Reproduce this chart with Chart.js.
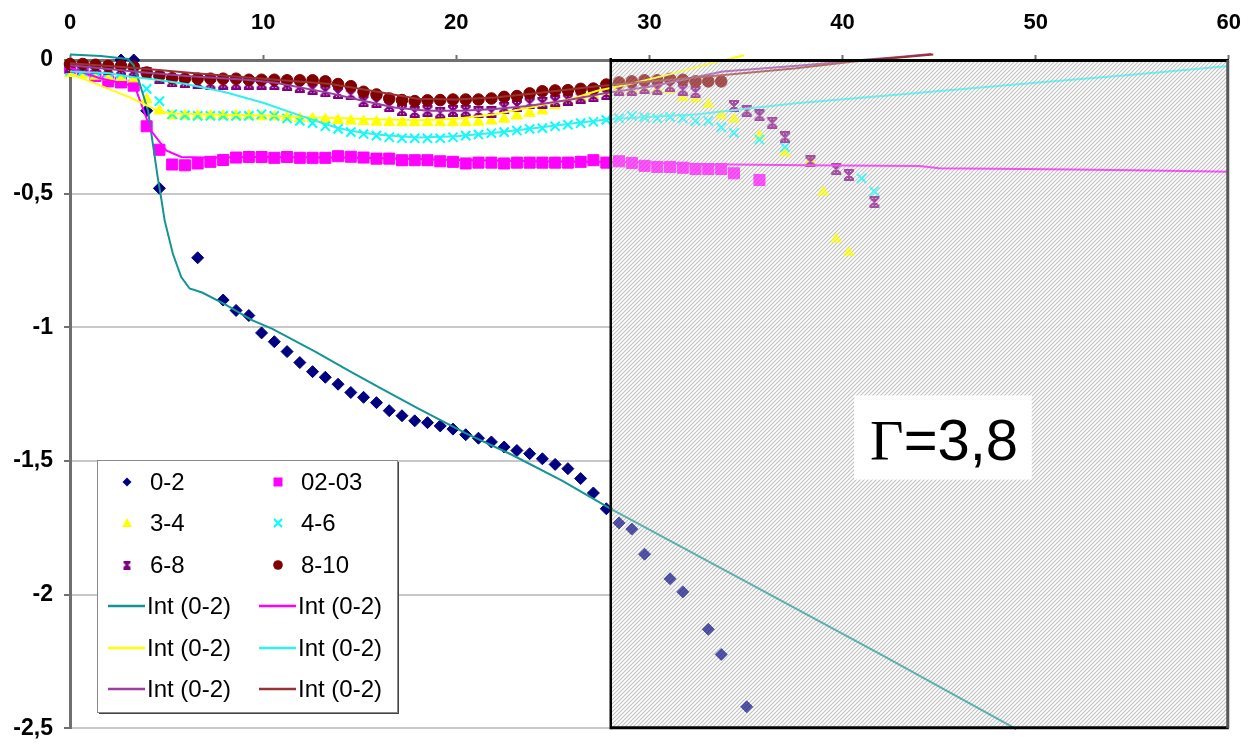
<!DOCTYPE html>
<html><head><meta charset="utf-8">
<script src="https://cdn.jsdelivr.net/npm/chart.js@4.4.1/dist/chart.umd.min.js"></script>
<style>html,body{margin:0;padding:0;background:#fff;}canvas{display:block;}</style>
</head><body>
<canvas id="c" width="1260" height="753"></canvas>
<script>
// ---- data ----
const time = [0, 0.66, 1.32, 1.98, 2.64, 3.3, 3.97, 4.63, 5.29, 5.95, 6.61, 7.27, 7.93, 8.6, 9.26, 9.92,
  10.58, 11.24, 11.9, 12.56, 13.22, 13.88, 14.54, 15.2, 15.87, 16.53, 17.19, 17.85, 18.51, 19.17, 19.83,
  20.49, 21.15, 21.82, 22.48, 23.14, 23.8, 24.46, 25.12, 25.78, 26.44, 27.1, 27.77, 28.43, 29.09, 29.75,
  30.41, 31.07, 31.73, 32.39, 33.05, 33.72, 34.38, 35.04, 35.7, 36.36, 37.02, 37.68, 38.34, 39.0, 39.67,
  40.33, 40.99, 41.65];

const s0_2 = [null, null, null, null, 0, 0, -0.19, -0.48, null, null, -0.74, null, -0.898, -0.937, -0.956, -1.021,
  -1.054, -1.091, -1.132, -1.166, -1.187, -1.213, -1.244, -1.262, -1.282, -1.312, -1.331, -1.35, -1.357, -1.369, -1.381,
  -1.402, -1.415, -1.429, -1.448, -1.461, -1.473, -1.492, -1.513, -1.529, -1.566, -1.62, -1.679, -1.732, -1.755, -1.849,
  null, -1.941, -1.99, null, -2.13, -2.224, null, -2.42];
const s02_03 = [-0.03, -0.04, -0.06, -0.08, -0.084, -0.096, -0.248, -0.336, -0.391, -0.394, -0.387, -0.381, -0.374, -0.365, -0.363, -0.363,
  -0.366, -0.363, -0.366, -0.366, -0.366, -0.36, -0.362, -0.365, -0.369, -0.369, -0.375, -0.375, -0.375, -0.379, -0.381,
  -0.387, -0.384, -0.384, -0.387, -0.384, -0.384, -0.384, -0.384, -0.384, -0.381, -0.375, -0.384, -0.379, -0.385, -0.396,
  -0.4, -0.4, -0.403, -0.408, -0.408, -0.408, -0.424, null, -0.449];
const s3_4 = [-0.05, -0.055, -0.06, -0.062, -0.065, -0.07, -0.148, -0.19, -0.209, -0.209, -0.209, -0.209, -0.209, -0.209, -0.209, -0.212,
  -0.212, -0.215, -0.218, -0.22, -0.223, -0.226, -0.228, -0.23, -0.232, -0.234, -0.234, -0.234, -0.234, -0.234, -0.234,
  -0.234, -0.232, -0.228, -0.221, -0.209, -0.199, -0.19, -0.17, -0.155, -0.14, -0.13, -0.118, -0.11, -0.111, -0.113,
  -0.113, -0.111, -0.141, -0.145, -0.166, -0.207, -0.221, null, -0.283, null, -0.347, null, -0.379, -0.494, -0.67,
  -0.72];
const s4_6 = [-0.04, -0.043, -0.045, -0.047, -0.05, -0.05, -0.108, -0.154, -0.203, -0.207, -0.209, -0.209, -0.209, -0.209, -0.209, -0.203,
  -0.209, -0.219, -0.228, -0.236, -0.248, -0.258, -0.27, -0.277, -0.283, -0.289, -0.293, -0.293, -0.293, -0.293, -0.289,
  -0.283, -0.279, -0.274, -0.27, -0.264, -0.258, -0.255, -0.248, -0.242, -0.236, -0.231, -0.224, -0.218, -0.209, -0.215,
  -0.218, -0.213, -0.218, -0.228, -0.228, -0.252, -0.273, null, -0.298, null, -0.326, null, null, null, null,
  null, -0.443, -0.492];
const s6_8 = [-0.025, -0.028, -0.03, -0.032, -0.035, -0.04, -0.05, -0.068, -0.08, -0.083, -0.086, -0.088, -0.088, -0.088, -0.088, -0.088,
  -0.09, -0.092, -0.1, -0.108, -0.117, -0.123, -0.129, -0.154, -0.157, -0.172, -0.188, -0.194, -0.19, -0.197, -0.19,
  -0.19, -0.194, -0.194, -0.178, -0.172, -0.162, -0.16, -0.154, -0.148, -0.141, -0.135, -0.127, -0.111, -0.111, -0.105,
  -0.108, -0.098, -0.111, -0.12, null, null, -0.172, -0.19, -0.207, -0.234, -0.289, null, -0.379, null, -0.408,
  -0.43, null, -0.531];
const s8_10 = [-0.015, -0.015, -0.018, -0.022, -0.022, -0.025, -0.047, -0.059, -0.068, -0.07, -0.07, -0.07, -0.07, -0.07, -0.074, -0.074,
  -0.074, -0.076, -0.076, -0.076, -0.08, -0.09, -0.098, -0.119, -0.129, -0.144, -0.15, -0.154, -0.151, -0.15, -0.148,
  -0.148, -0.148, -0.144, -0.138, -0.135, -0.125, -0.117, -0.114, -0.113, -0.108, -0.107, -0.092, -0.084, -0.08, -0.076,
  -0.076, -0.071, -0.074, -0.08, -0.08, -0.08];

const intTealX = [0, 1.6, 3.0, 3.3, 3.6, 4.04, 4.55, 4.75, 4.9, 5.33, 5.76, 6.19, 6.87, 8.08, 9.45, 10.48, 12.72, 14.43, 16.15, 18.04, 20.53, 22.85, 25.5, 28, 35, 42, 49];
const intTealY = [0.021, 0.015, 0.004, -0.02, -0.086, -0.19, -0.443, -0.53, -0.6, -0.726, -0.812, -0.855, -0.871, -0.916, -0.974, -1.006, -1.092, -1.162, -1.23, -1.304, -1.398, -1.476, -1.575, -1.679, -1.952, -2.225, -2.503];
const intMagX = [0, 1.55, 3.35, 4.2, 4.98, 5.76, 7, 10, 15, 20, 25, 28, 33, 38, 44, 45, 52, 56, 60];
const intMagY = [-0.03, -0.068, -0.098, -0.265, -0.338, -0.363, -0.365, -0.363, -0.366, -0.374, -0.38, -0.381, -0.39, -0.394, -0.397, -0.405, -0.41, -0.413, -0.418];
const intYelX = [0, 1, 2, 3, 3.87, 4.6, 5.3, 8, 10, 12, 15, 18, 20, 22, 24, 26, 27.3, 29, 31.3, 33.2, 34.9];
const intYelY = [-0.05, -0.079, -0.108, -0.137, -0.166, -0.192, -0.2, -0.205, -0.208, -0.213, -0.22, -0.225, -0.22, -0.203, -0.175, -0.145, -0.115, -0.09, -0.049, -0.012, 0.018];
const intCyanX = [0, 2, 3.4, 4.5, 6, 8, 10, 12, 13.9, 15, 16, 18, 20, 22, 24, 26, 28, 32.5, 35.7, 37.6, 42.8, 50, 55, 60];
const intCyanY = [-0.043, -0.05, -0.065, -0.074, -0.09, -0.12, -0.16, -0.21, -0.255, -0.27, -0.28, -0.29, -0.285, -0.272, -0.255, -0.238, -0.221, -0.203, -0.177, -0.162, -0.13, -0.085, -0.055, -0.022];
const intPurX = [0, 3.6, 6, 9.1, 10.65, 13.4, 15, 16.8, 18.5, 20.3, 22, 23.7, 25.8, 27.8, 30, 33.8, 38, 41, 42.8, 44.6];
const intPurY = [-0.02, -0.045, -0.06, -0.074, -0.085, -0.123, -0.15, -0.178, -0.19, -0.19, -0.183, -0.172, -0.15, -0.123, -0.1, -0.043, -0.02, 0.0, 0.01, 0.022];
const intMarX = [0, 3.4, 6.5, 10, 13.5, 16, 18, 20, 22, 24, 27.3, 30, 34, 37.6, 40.6, 44.7];
const intMarY = [-0.012, -0.03, -0.05, -0.07, -0.09, -0.12, -0.145, -0.148, -0.14, -0.125, -0.098, -0.08, -0.055, -0.031, -0.006, 0.021];

const seriesLabels = ['0-2', '02-03', '3-4', '4-6', '6-8', '8-10'];
const lineLabels = ['Int (0-2)', 'Int (0-2)', 'Int (0-2)', 'Int (0-2)', 'Int (0-2)', 'Int (0-2)'];
const gammaText = ['\u0393', '=3,8'];
const shadeFrom = 28, shadeTo = 60;

// ---- helpers ----
const FONT = "'Liberation Sans', Arial, sans-serif";
function pts(ys) { return time.map((x, i) => (ys[i] == null ? null : { x: x, y: ys[i] })).filter(Boolean); }
function line(xs, ys) { return xs.map((x, i) => ({ x: x, y: ys[i] })); }

function starCanvas(size, color, lw) {
  const c = document.createElement('canvas'); c.width = size; c.height = size;
  const g = c.getContext('2d'); g.strokeStyle = color; g.lineWidth = lw;
  const m = size / 2, a = 1.5, b = size - 1.5;
  g.beginPath();
  g.moveTo(a, a); g.lineTo(b, b); g.moveTo(b, a); g.lineTo(a, b);
  g.moveTo(m, 0.5); g.lineTo(m, size - 0.5);
  g.moveTo(a - 0.5, 1); g.lineTo(b + 0.5, 1); g.moveTo(a - 0.5, size - 1); g.lineTo(b + 0.5, size - 1);
  g.stroke();
  return c;
}
const starImg = starCanvas(12, '#800080', 2.2);
const starImgSmall = starCanvas(9, '#800080', 1.8);

const hatchCanvas = (() => {
  const c = document.createElement('canvas'); c.width = 4; c.height = 4;
  const g = c.getContext('2d'); g.fillStyle = '#ffffff'; g.fillRect(0, 0, 4, 4);
  g.strokeStyle = '#bcbcbc'; g.lineWidth = 1.1; g.beginPath();
  g.moveTo(-1, 5); g.lineTo(5, -1); g.moveTo(-1, 1); g.lineTo(1, -1); g.moveTo(3, 5); g.lineTo(5, 3);
  g.stroke(); return c;
})();

const P = { showLine: false, clip: 8, borderWidth: 1 };
const L = { showLine: true, pointRadius: 0, borderWidth: 2, clip: 8, fill: false, tension: 0 };

const datasets = [
  Object.assign({ label: seriesLabels[0], data: pts(s0_2), pointStyle: 'rectRot', pointRadius: 6, backgroundColor: '#000080', borderColor: '#000080', order: 12 }, P),
  Object.assign({ label: seriesLabels[1], data: pts(s02_03), pointStyle: 'rect', pointRadius: 7.8, backgroundColor: '#ff00ff', borderColor: '#ff00ff', order: 11 }, P),
  Object.assign({ label: seriesLabels[2], data: pts(s3_4), pointStyle: 'triangle', pointRadius: 6.3, backgroundColor: '#ffff00', borderColor: '#ffff00', order: 10 }, P),
  Object.assign({ label: seriesLabels[3], data: pts(s4_6), pointStyle: 'crossRot', pointRadius: 6.5, backgroundColor: '#00ffff', borderColor: '#00ffff', order: 9 }, P, { borderWidth: 2 }),
  Object.assign({ label: seriesLabels[4], data: pts(s6_8), pointStyle: starImg, pointRadius: 6, backgroundColor: '#800080', borderColor: '#800080', order: 8 }, P),
  Object.assign({ label: seriesLabels[5], data: pts(s8_10), pointStyle: 'circle', pointRadius: 5.8, backgroundColor: '#800000', borderColor: '#800000', order: 7 }, P),
  Object.assign({ label: lineLabels[0], data: line(intTealX, intTealY), borderColor: '#149494', order: 6 }, L),
  Object.assign({ label: lineLabels[1], data: line(intMagX, intMagY), borderColor: '#ff00ff', order: 5 }, L),
  Object.assign({ label: lineLabels[2], data: line(intYelX, intYelY), borderColor: '#ffff00', order: 4 }, L),
  Object.assign({ label: lineLabels[3], data: line(intCyanX, intCyanY), borderColor: '#30f0f0', order: 3 }, L),
  Object.assign({ label: lineLabels[4], data: line(intPurX, intPurY), borderColor: '#9a3fa0', order: 2 }, L),
  Object.assign({ label: lineLabels[5], data: line(intMarX, intMarY), borderColor: '#993333', order: 1 }, L)
];

function region(chart) {
  const x = chart.scales.x, y = chart.scales.y;
  return { x0: x.getPixelForValue(shadeFrom), x1: x.getPixelForValue(shadeTo), y0: y.getPixelForValue(0), y1: y.getPixelForValue(-2.5) };
}

function drawMarker(ctx, kind, cx, cy) {
  ctx.save();
  if (kind === 0) { ctx.fillStyle = '#000080'; ctx.beginPath(); ctx.moveTo(cx, cy - 4.5); ctx.lineTo(cx + 4.5, cy); ctx.lineTo(cx, cy + 4.5); ctx.lineTo(cx - 4.5, cy); ctx.closePath(); ctx.fill(); }
  else if (kind === 1) { ctx.fillStyle = '#ff00ff'; ctx.fillRect(cx - 4.5, cy - 4.5, 9, 9); }
  else if (kind === 2) { ctx.fillStyle = '#ffff00'; ctx.beginPath(); ctx.moveTo(cx, cy - 5); ctx.lineTo(cx + 5, cy + 4); ctx.lineTo(cx - 5, cy + 4); ctx.closePath(); ctx.fill(); }
  else if (kind === 3) { ctx.strokeStyle = '#00ffff'; ctx.lineWidth = 2; ctx.beginPath(); ctx.moveTo(cx - 4, cy - 4); ctx.lineTo(cx + 4, cy + 4); ctx.moveTo(cx + 4, cy - 4); ctx.lineTo(cx - 4, cy + 4); ctx.stroke(); }
  else if (kind === 4) { ctx.drawImage(starImgSmall, cx - 4.5, cy - 4.5); }
  else if (kind === 5) { ctx.fillStyle = '#800000'; ctx.beginPath(); ctx.arc(cx, cy, 4.8, 0, Math.PI * 2); ctx.fill(); }
  ctx.restore();
}

const overlay = {
  id: 'overlay',
  beforeDatasetsDraw(chart) {
    const ctx = chart.ctx, r = region(chart);
    ctx.save(); ctx.globalAlpha = 0.9;
    ctx.fillStyle = ctx.createPattern(hatchCanvas, 'repeat');
    ctx.fillRect(r.x0, r.y0, r.x1 - r.x0, r.y1 - r.y0);
    ctx.restore();
  },
  afterDatasetsDraw(chart) {
    const ctx = chart.ctx, r = region(chart), ca = chart.chartArea;
    ctx.save();
    // semi-transparent hatch over the marks
    ctx.globalAlpha = 0.35;
    ctx.fillStyle = ctx.createPattern(hatchCanvas, 'repeat');
    ctx.fillRect(r.x0, r.y0, r.x1 - r.x0, r.y1 - r.y0);
    ctx.globalAlpha = 1;
    // borders of the shaded zone
    ctx.strokeStyle = '#000'; ctx.lineWidth = 2.5;
    ctx.beginPath(); ctx.moveTo(r.x0, r.y0 - 2); ctx.lineTo(r.x0, r.y1 + 1); ctx.stroke();
    ctx.lineWidth = 3;
    ctx.beginPath(); ctx.moveTo(r.x0, r.y0 + 0.5); ctx.lineTo(r.x1, r.y0 + 0.5); ctx.stroke();
    ctx.beginPath(); ctx.moveTo(r.x0, r.y1 - 0.5); ctx.lineTo(r.x1, r.y1 - 0.5); ctx.stroke();
    ctx.strokeStyle = '#555'; ctx.lineWidth = 3;
    ctx.beginPath(); ctx.moveTo(r.x1 - 1, r.y0); ctx.lineTo(r.x1 - 1, r.y1); ctx.stroke();

    // Gamma label box
    const xs = chart.scales.x, ys = chart.scales.y;
    const bx0 = xs.getPixelForValue(40.6), bx1 = xs.getPixelForValue(49.8);
    const by0 = ys.getPixelForValue(-1.255), by1 = ys.getPixelForValue(-1.57);
    ctx.fillStyle = '#fff'; ctx.fillRect(bx0, by0, bx1 - bx0, by1 - by0);
    ctx.fillStyle = '#000'; ctx.textBaseline = 'alphabetic'; ctx.textAlign = 'left';
    ctx.font = "58px 'Liberation Serif', 'Times New Roman', serif";
    const tx = bx0 + 16, ty = by1 - 20;
    ctx.fillText(gammaText[0], tx, ty);
    const gw = ctx.measureText(gammaText[0]).width;
    ctx.font = '58px ' + FONT;
    ctx.fillText(gammaText[1], tx + gw, ty);

    // legend
    const lx = ca.left + 27, ly = 460, lw = 300, lh = 252;
    ctx.fillStyle = '#fff'; ctx.fillRect(lx, ly, lw, lh);
    ctx.strokeStyle = '#444'; ctx.lineWidth = 2;
    ctx.beginPath(); ctx.moveTo(lx + 2, ly + lh + 1); ctx.lineTo(lx + lw + 1, ly + lh + 1); ctx.lineTo(lx + lw + 1, ly + 2); ctx.stroke();
    ctx.strokeStyle = '#8a8a8a'; ctx.lineWidth = 1;
    ctx.strokeRect(lx + 0.5, ly + 0.5, lw, lh);
    const rowsY = [482, 523, 565, 606, 648, 689];
    const colMarkX = [lx + 30, lx + 181];
    const colTextX = [lx + 53, lx + 204];
    ctx.font = '24px ' + FONT; ctx.textBaseline = 'middle'; ctx.fillStyle = '#000';
    for (let i = 0; i < 6; i++) {
      const row = Math.floor(i / 2), col = i % 2;
      drawMarker(ctx, i, colMarkX[col], rowsY[row]);
      ctx.fillStyle = '#000';
      ctx.fillText(seriesLabels[i], colTextX[col], rowsY[row] + 1);
    }
    for (let i = 0; i < 6; i++) {
      const row = 3 + Math.floor(i / 2), col = i % 2;
      const ds = datasets[6 + i];
      ctx.strokeStyle = ds.borderColor; ctx.lineWidth = 2.5;
      ctx.beginPath(); ctx.moveTo(colMarkX[col] - 19, rowsY[row]); ctx.lineTo(colMarkX[col] + 18, rowsY[row]); ctx.stroke();
      ctx.fillStyle = '#000';
      ctx.fillText(lineLabels[i], colTextX[col] - 3, rowsY[row] + 1);
    }
    ctx.restore();
  }
};

new Chart(document.getElementById('c'), {
  type: 'scatter',
  data: { datasets: datasets },
  options: {
    responsive: false, animation: false, devicePixelRatio: 1,
    layout: { padding: { left: 0, right: 27, top: 0, bottom: 16 } },
    plugins: { legend: { display: false }, tooltip: { enabled: false } },
    scales: {
      x: {
        type: 'linear', position: 'top', min: 0, max: 60,
        afterFit(s) { s.height = 60; },
        ticks: { stepSize: 10, color: '#000', padding: 19, font: { family: FONT, size: 22, weight: 'bold' } },
        grid: { drawOnChartArea: false, tickLength: 5, tickColor: '#707070', tickWidth: 2 },
        border: { color: '#707070', width: 3 }
      },
      y: {
        type: 'linear', min: -2.5, max: 0,
        afterFit(s) { s.width = 70; },
        ticks: { stepSize: 0.5, color: '#000', padding: 11, font: { family: FONT, size: 23, weight: 'bold' },
          callback: (v) => String(v).replace('.', ',') },
        grid: { color: (c) => (c.tick && c.tick.value === 0 ? 'rgba(0,0,0,0)' : '#c8c8c8'), lineWidth: 2, tickLength: 6, tickColor: '#707070', tickWidth: 2 },
        border: { color: '#707070', width: 3 }
      }
    }
  },
  plugins: [overlay]
});
</script>
</body></html>
